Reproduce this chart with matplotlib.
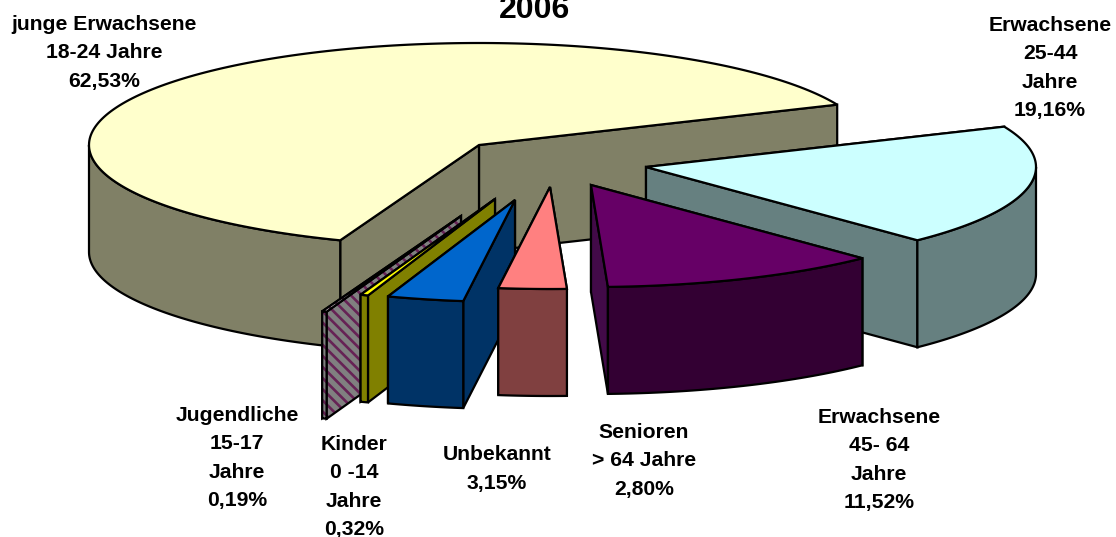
import numpy as np
import matplotlib
matplotlib.use("Agg")
import matplotlib.pyplot as plt
from matplotlib.patches import Polygon

plt.rcParams['font.family'] = ['Liberation Sans', 'DejaVu Sans']
plt.rcParams['hatch.linewidth'] = 1.9

# clockwise from the big slice
names = ["junge Erwachsene\n18-24 Jahre", "Erwachsene\n25-44\nJahre", "Erwachsene\n45- 64\nJahre",
         "Senioren\n> 64 Jahre", "Unbekannt", "Kinder\n0 -14\nJahre", "Jugendliche\n15-17\nJahre"]
shares = [62.53, 19.16, 11.52, 2.80, 3.15, 0.32, 0.19]
share_text = ["62,53%", "19,16%", "11,52%", "2,80%", "3,15%", "0,32%", "0,19%"]

top_colors = ["#FFFFCC", "#CCFFFF", "#660066", "#FF8080", "#0066CC", "#FFFF00", "#F4E0EC"]
side_colors = ["#808066", "#668080", "#330033", "#804040", "#003366", "#808000", "#808080"]
radial_colors = ["#808066", "#668080", "#420A48", "#804040", "#003366", "#808000", "#808080"]

# apex of each exploded slice in pixels
apex_x = [479, 646, 591, 550, 515, 495, 461]
apex_y = [145, 167, 185, 187, 200, 199, 216]
label_x = [104, 1050, 879, 644, 497, 354, 237]
label_y = [53, 68, 460, 461, 469, 487, 458]

RX, RY, DEPTH = 390, 102, 107
START_ANGLE = 23.3
draw_order = [0, 1, 6, 5, 4, 3, 2]


def rim(cx, cy, ang):
    a = np.radians(ang)
    return cx + RX * np.cos(a), cy - RY * np.sin(a)


def add_face(ax, pts, color, hatch=None):
    if hatch:
        ax.add_patch(Polygon(pts, closed=True, facecolor=color, edgecolor="#662255",
                             hatch=hatch, linewidth=0))
        ax.add_patch(Polygon(pts, closed=True, fill=False, edgecolor="black", linewidth=1.6))
    else:
        ax.add_patch(Polygon(pts, closed=True, facecolor=color, edgecolor="black",
                             linewidth=1.6, joinstyle="miter"))


def draw_slice(ax, i, low, high):
    cx, cy = apex_x[i], apex_y[i]
    hatch = "\\\\\\" if i == 6 else None

    # radial cut faces, hidden one first
    faces = []
    for ang, normal in ((low, low - 90), (high, high + 90)):
        x, y = rim(cx, cy, ang)
        pts = [(cx, cy), (x, y), (x, y + DEPTH), (cx, cy + DEPTH)]
        faces.append((np.sin(np.radians(normal)) < 0, pts))
    faces.sort(key=lambda f: f[0])
    for visible, pts in faces:
        add_face(ax, pts, radial_colors[i], hatch)

    # outer wall, only the part below the ellipse centre faces the viewer
    for a0, a1 in ((180, 360), (-180, 0)):
        s0, s1 = max(low, a0), min(high, a1)
        if s1 > s0:
            t = np.linspace(s0, s1, 80)
            x, y = rim(cx, cy, t)
            pts = np.r_[np.c_[x, y], np.c_[x[::-1], y[::-1] + DEPTH]]
            add_face(ax, pts, side_colors[i], hatch)

    # top
    t = np.linspace(low, high, 200)
    x, y = rim(cx, cy, t)
    add_face(ax, np.r_[[(cx, cy)], np.c_[x, y]], top_colors[i], hatch)


fig = plt.figure(figsize=(11.16, 5.37), dpi=100)
ax = fig.add_axes([0, 0, 1, 1])
ax.set_xlim(0, 1116)
ax.set_ylim(537, 0)
ax.axis("off")

# work out the angle span of every slice from its share
degrees = np.array(shares) / sum(shares) * 360
spans = {}
high = START_ANGLE
spans[0] = (START_ANGLE, START_ANGLE + degrees[0])
for i in range(1, len(shares)):
    spans[i] = (high - degrees[i], high)
    high -= degrees[i]

for i in draw_order:
    draw_slice(ax, i, *spans[i])

for i in range(len(names)):
    ax.text(label_x[i], label_y[i], names[i] + "\n" + share_text[i], ha="center", va="center",
            fontsize=15.2, fontweight="bold", linespacing=1.62, color="black")

ax.text(535, 18, "2006", ha="center", va="baseline", fontsize=23, fontweight="bold")

fig.savefig("out.png", dpi=100)
